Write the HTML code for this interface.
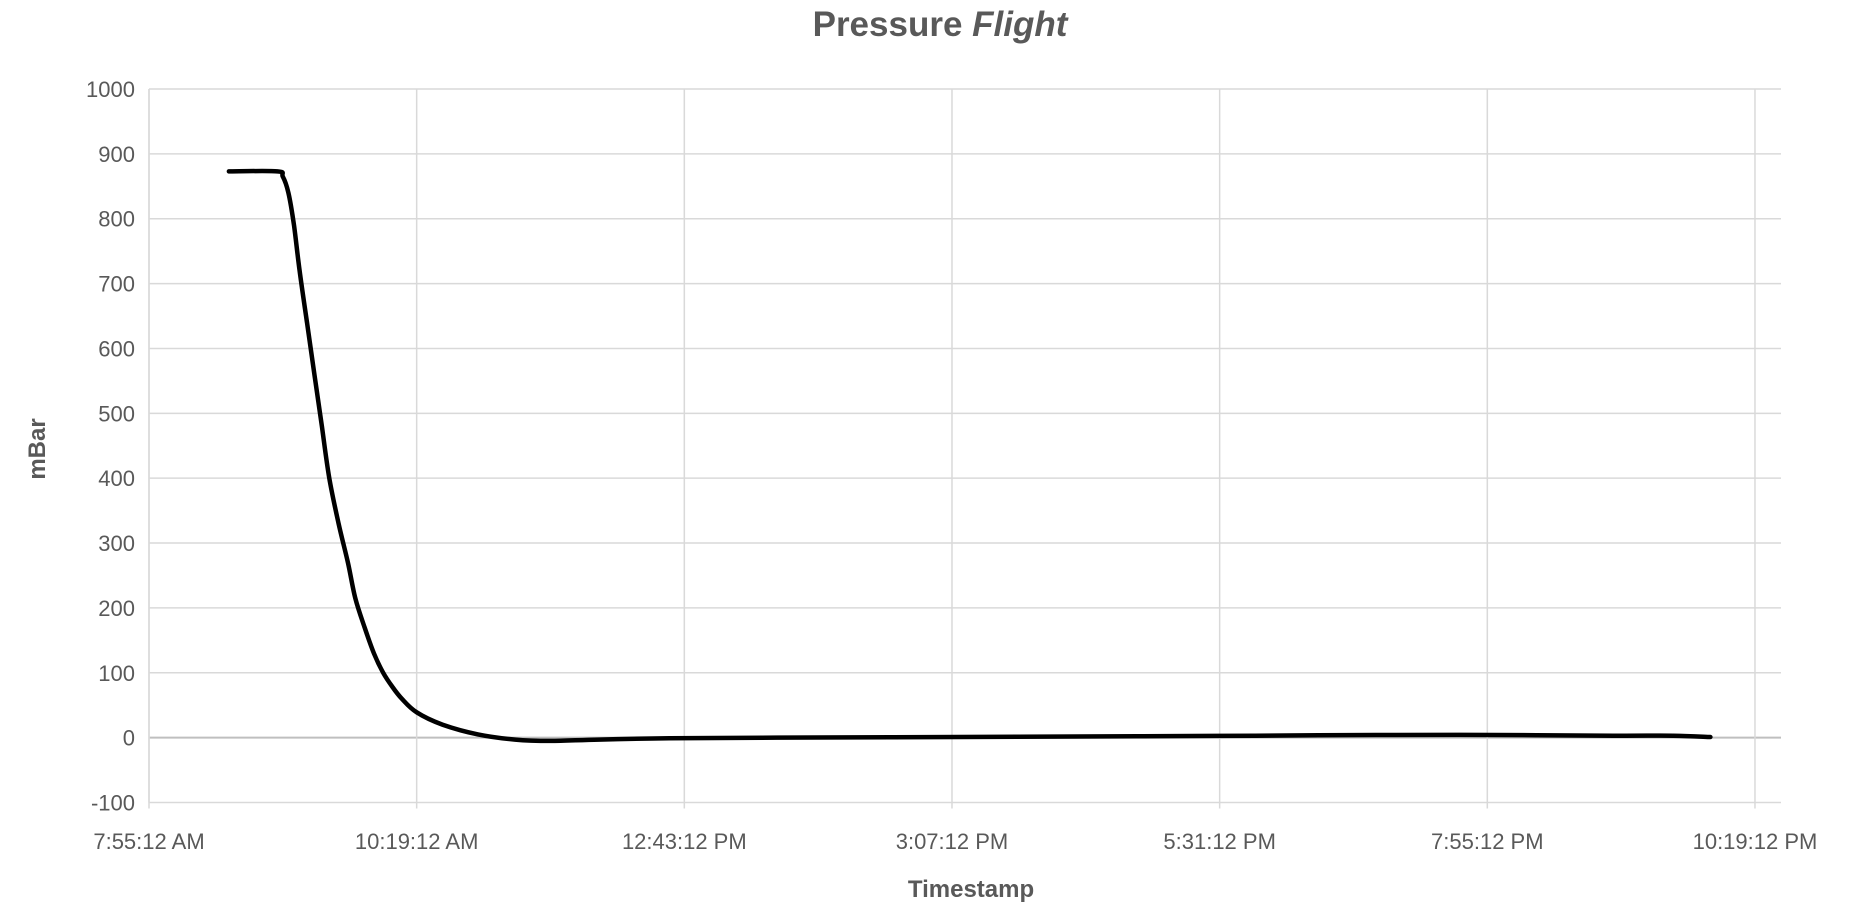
<!DOCTYPE html>
<html><head><meta charset="utf-8"><style>
html,body{margin:0;padding:0;background:#fff;}
svg{display:block;font-family:"Liberation Sans",sans-serif;}
</style></head><body>
<svg id="chart" width="1872" height="921" viewBox="0 0 1872 921" xmlns="http://www.w3.org/2000/svg">
<text x="940" y="36" text-anchor="middle" font-size="35" font-weight="bold" fill="#595959">Pressure <tspan font-style="italic">Flight</tspan></text>
<g id="grid"></g>
<g id="yticks"></g>
<g id="xticks"></g>
<text transform="translate(45,449) rotate(-90)" text-anchor="middle" font-size="24" font-weight="bold" fill="#595959">mBar</text>
<text x="971" y="897" text-anchor="middle" font-size="24" font-weight="bold" fill="#595959">Timestamp</text>
<path id="line" fill="none" stroke="#000" stroke-width="4.5" stroke-linejoin="round" stroke-linecap="round"/>
</svg>
<script>
const yTicks=[-100,0,100,200,300,400,500,600,700,800,900,1000];
const xTickLabels=["7:55:12 AM","10:19:12 AM","12:43:12 PM","3:07:12 PM","5:31:12 PM","7:55:12 PM","10:19:12 PM"];
const xTickMinutes=[0,144,288,432,576,720,864];
// minutes since 7:55:12 AM
const timeMin=[43,69,72,75,78,81,85,89,93,97,102,107,111,116,121,126,131,136,144,158,177,197,216,242,280,338,435,531,595,660,724,788,820,840];
const pressure=[873,873,865,840,790,720,640,560,480,400,330,270,215,170,130,100,78,60,39,20,5,-3,-5,-3,-1,0,1,2,3,4,4,3,3,1];
const L=149,R=1781,T=89,B=802.5,xMax=878;
const xs=m=>L+m/xMax*(R-L);
const ys=v=>B-(v+100)/1100*(B-T);
const NS="http://www.w3.org/2000/svg";
const grid=document.getElementById('grid'),yt=document.getElementById('yticks'),xt=document.getElementById('xticks');
yTicks.forEach(v=>{
 const l=document.createElementNS(NS,'line');
 
 
 l.setAttribute('x1',L);l.setAttribute('x2',R);l.setAttribute('y1',ys(v));l.setAttribute('y2',ys(v));
 l.setAttribute('stroke',v===0?'#bfbfbf':'#d9d9d9');l.setAttribute('stroke-width',v===0?2:1.5);
 grid.appendChild(l);
 const t=document.createElementNS(NS,'text');
 
 
 t.setAttribute('x',L-14);t.setAttribute('y',ys(v)+8);t.setAttribute('text-anchor','end');
 t.setAttribute('font-size','22');t.setAttribute('fill','#595959');t.textContent=v;
 yt.appendChild(t);
});
const lv=document.createElementNS(NS,'line');


lv.setAttribute('x1',L);lv.setAttribute('x2',L);lv.setAttribute('y1',T);lv.setAttribute('y2',B);lv.setAttribute('stroke','#d9d9d9');lv.setAttribute('stroke-width',1.5);
grid.appendChild(lv);
xTickMinutes.forEach((m,i)=>{
 const x=xs(m);
 const l=document.createElementNS(NS,'line');
 
 
 l.setAttribute('x1',x);l.setAttribute('x2',x);l.setAttribute('y1',T);l.setAttribute('y2',B+6);
 l.setAttribute('stroke','#d9d9d9');l.setAttribute('stroke-width',1.5);
 grid.appendChild(l);
 const t=document.createElementNS(NS,'text');
 
 
 t.setAttribute('x',x);t.setAttribute('y',849);t.setAttribute('text-anchor','middle');
 t.setAttribute('font-size','22');t.setAttribute('fill','#595959');t.textContent=xTickLabels[i];
 xt.appendChild(t);
});
// smooth Catmull-Rom path through data points
const P=timeMin.map((m,i)=>[xs(m),ys(pressure[i])]);
let d='M'+P[0][0].toFixed(1)+','+P[0][1].toFixed(1);
for(let i=0;i<P.length-1;i++){
 const p0=P[Math.max(0,i-1)],p1=P[i],p2=P[i+1],p3=P[Math.min(P.length-1,i+2)];
 const c1=[p1[0]+(p2[0]-p0[0])/6,p1[1]+(p2[1]-p0[1])/6];
 const c2=[p2[0]-(p3[0]-p1[0])/6,p2[1]-(p3[1]-p1[1])/6];
 d+='C'+c1.map(v=>v.toFixed(1)).join(',')+' '+c2.map(v=>v.toFixed(1)).join(',')+' '+p2[0].toFixed(1)+','+p2[1].toFixed(1);
}
document.getElementById('line').setAttribute('d',d);
</script>
</body></html>
